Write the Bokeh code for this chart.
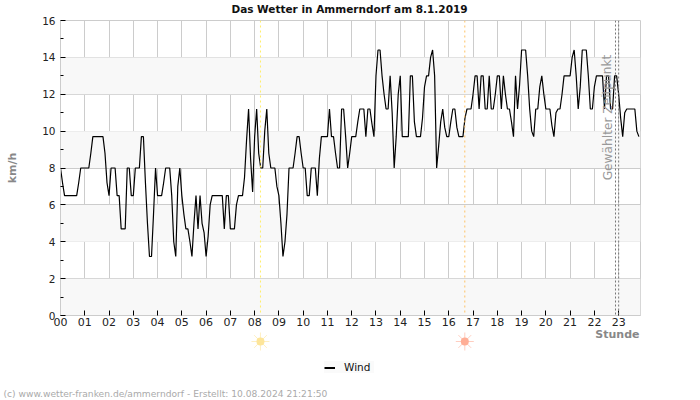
from bokeh.embed import file_html
from bokeh.layouts import column
from bokeh.models import BoxAnnotation, FixedTicker, Label, Legend, LegendItem, Range1d, Span
from bokeh.plotting import figure
from bokeh.resources import INLINE

# Wind speed in km/h, one row per hour, one value every five minutes
wind_by_hour = [
    [8, 7.2, 6.5, 6.5, 6.5, 6.5, 6.5, 6.5, 6.5, 7.2, 8, 8],
    [8, 8, 8, 8.8, 9.7, 9.7, 9.7, 9.7, 9.7, 9.7, 8.8, 7.2],
    [6.5, 8, 8, 8, 6.5, 6.5, 4.7, 4.7, 4.7, 8, 8, 6.5],
    [6.5, 8, 8, 8, 9.7, 9.7, 7.2, 5, 3.2, 3.2, 5.5, 8],
    [6.5, 6.5, 6.5, 7.2, 8, 8, 8, 6.5, 4, 3.2, 7, 8],
    [6.5, 5.5, 4.7, 4.7, 4, 3.2, 5, 6.5, 4.7, 6.5, 5, 4.5],
    [3.2, 4.3, 6, 6.5, 6.5, 6.5, 6.5, 6.5, 6.5, 4.7, 6.5, 6.5],
    [4.7, 4.7, 4.7, 6, 6.5, 6.5, 6.5, 7.5, 9.5, 11.2, 8.5, 6.7],
    [9.7, 11.2, 8.8, 8, 8, 10, 11.2, 8.8, 8, 8, 8, 7],
    [6.5, 5, 3.2, 4, 5.5, 8, 8, 8, 8.8, 9.7, 9.7, 8.8],
    [8, 8, 6.5, 6.5, 8, 8, 8, 6.5, 8.5, 9.7, 9.7, 9.7],
    [9.7, 11.2, 9.7, 9.7, 8.8, 8, 8, 11.2, 11.2, 9.7, 8, 8.8],
    [9.7, 9.7, 9.7, 10.5, 11.2, 11.2, 11.2, 9.7, 11.2, 11.2, 10.4, 9.7],
    [13, 14.4, 14.4, 13, 12, 11.2, 11.2, 13, 11, 8, 9.7, 12],
    [13, 9.7, 9.7, 9.7, 9.7, 13, 13, 10.5, 9.7, 9.7, 9.7, 10.7],
    [12.4, 13, 13, 14, 14.4, 13, 8, 9.2, 10.5, 11.2, 10.2, 9.7],
    [9.7, 10.5, 11.2, 11.2, 10.2, 9.7, 9.7, 9.7, 10.7, 11.2, 11.2, 11.2],
    [12, 13, 13, 11.2, 13, 13, 11.2, 11.2, 13, 11.2, 11.2, 12],
    [13, 13, 11.2, 13, 12, 11.2, 11.2, 10.5, 9.7, 13, 11.2, 12.5],
    [14.4, 14.4, 14.4, 13, 11.2, 10, 9.7, 11.2, 11.2, 12.4, 13, 12],
    [11.2, 11.2, 11.2, 10.3, 9.7, 11, 11.2, 11.2, 12, 13, 13, 13],
    [13, 14, 14.4, 13, 11.2, 12.4, 14.4, 14.4, 14.4, 13, 11.2, 11.2],
    [12.4, 13, 13, 13, 13, 11.2, 13, 13, 11.2, 11.2, 13, 13],
    [12, 10.7, 9.7, 11, 11.2, 11.2, 11.2, 11.2, 11.2, 10, 9.7],
]
hour_labels = [f"{h:02d}" for h in range(24)]
speed_ticks = list(range(0, 17, 2))
speed_minor_ticks = list(range(1, 16, 2))
shaded_bands = [(0, 2), (4, 6), (8, 10), (12, 14)]
sunrise_hour = 8.24
sunset_hour = 16.66
selected_hours = [22.87, 23.0]

wind = [v for row in wind_by_hour for v in row]
hours = [i / 12 for i in range(len(wind))]

FONT = "DejaVu Sans"
GRID = "#cccccc"
MUTED = "#888888"
PX_PER_HOUR = 580 / 23.9

# Title strip above the plot
header = figure(
    width=700, height=14, output_backend="svg", toolbar_location=None,
    x_range=(0, 700), y_range=(0, 14), frame_align=False,
    min_border=0, x_axis_type=None, y_axis_type=None, outline_line_color=None,
    background_fill_color="white", border_fill_color="white",
)
header.grid.visible = False
header.add_layout(Label(text="Das Wetter in Ammerndorf am 8.1.2019", x=349, y=6,
                        x_units="screen", y_units="screen", text_font=FONT,
                        text_font_size="10.5px", text_font_style="bold", text_color="#111111",
                        text_align="center", text_baseline="middle"))

p = figure(
    width=700, height=314, output_backend="svg", toolbar_location=None,
    x_range=(0, 23.9), y_range=(0, 16), frame_align=False,
    min_border_left=60, min_border_right=60, min_border_top=6, min_border_bottom=13,
    background_fill_color="white", border_fill_color="white",
    outline_line_color=GRID,
)

for low, high in shaded_bands:
    p.add_layout(BoxAnnotation(bottom=low, top=high, fill_color="#f8f8f8", fill_alpha=1,
                               line_color=None, level="underlay"))

p.xaxis.ticker = FixedTicker(ticks=list(range(24)))
p.xaxis.major_label_overrides = {h: label for h, label in enumerate(hour_labels)}
p.yaxis.ticker = FixedTicker(ticks=speed_ticks, minor_ticks=speed_minor_ticks)

for axis in (p.xaxis[0], p.yaxis[0]):
    axis.axis_line_color = GRID
    axis.major_tick_line_color = "#000000"
    axis.major_tick_in = 5
    axis.major_tick_out = 0
    axis.major_label_text_font = FONT
    axis.major_label_text_color = "#222222"
p.xaxis.minor_tick_line_color = None
p.yaxis.minor_tick_line_color = "#000000"
p.yaxis.minor_tick_in = 3
p.yaxis.minor_tick_out = 0
p.xaxis.major_label_text_font_size = "11px"
p.yaxis.major_label_text_font_size = "10.5px"
p.xaxis.major_label_standoff = 2
p.yaxis.major_label_standoff = 5
p.yaxis.axis_label = "km/h"
p.yaxis.axis_label_text_font = FONT
p.yaxis.axis_label_text_font_size = "11px"
p.yaxis.axis_label_text_font_style = "bold"
p.yaxis.axis_label_text_color = MUTED
p.yaxis.axis_label_standoff = 20

p.grid.grid_line_color = GRID
p.grid.grid_line_width = 1

p.add_layout(Span(location=sunrise_hour, dimension="height", line_color="#ffee66",
                  line_dash="2 3", line_width=1))
p.add_layout(Span(location=sunset_hour, dimension="height", line_color="#ffc266",
                  line_dash="2 3", line_width=1))
for hour in selected_hours:
    p.add_layout(Span(location=hour, dimension="height", line_color="#777777",
                      line_dash="2 2", line_width=1))

p.line(hours, wind, line_color="#000000", line_width=1.2)

p.add_layout(Label(text="Gewählter Zeitpunkt", x=547, y=198, x_units="screen", y_units="screen",
                   angle=1.5708, angle_units="rad", text_font=FONT, text_font_size="12.2px",
                   text_color="#999999", text_align="center", text_baseline="middle"))

# Strip under the plot: axis name, sun symbols, legend and credit line
q = figure(
    width=700, height=72, output_backend="svg", toolbar_location=None,
    x_range=Range1d(-60 / PX_PER_HOUR, 640 / PX_PER_HOUR), y_range=Range1d(0, 72), frame_align=False,
    min_border=0, x_axis_type=None, y_axis_type=None, outline_line_color=None,
    background_fill_color="white", border_fill_color="white",
)
q.grid.visible = False

for hour, colour in ((sunrise_hour, "#fde59a"), (sunset_hour, "#ffae96")):
    q.scatter([hour], [59], marker="asterisk", size=18, line_color=colour, line_alpha=0.6,
              fill_color=None)
    q.scatter([hour], [59], marker="circle", size=8, line_color=None, fill_color=colour)

# The legend sample comes from a line kept below the strip's visible range
legend_line = q.line([sunrise_hour, sunset_hour], [-5, -5], line_color="#000000", line_width=2)
q.add_layout(Legend(items=[LegendItem(label="Wind", renderers=[legend_line])],
                    location=(324, 27), orientation="horizontal",
                    background_fill_color="#fafafa", background_fill_alpha=1,
                    border_line_color=None, label_text_font=FONT, label_text_font_size="10.5px",
                    label_text_color="#111111", glyph_width=11, glyph_height=11,
                    padding=5, margin=0, label_standoff=9, label_width=30))

q.add_layout(Label(text="Stunde", x=639, y=66, x_units="screen", y_units="screen",
                   text_font=FONT, text_font_size="11px", text_font_style="bold",
                   text_color=MUTED, text_align="right", text_baseline="middle"))
q.add_layout(Label(text="(c) www.wetter-franken.de/ammerndorf - Erstellt: 10.08.2024 21:21:50",
                   x=3, y=7, x_units="screen", y_units="screen",
                   text_font=FONT, text_font_size="9.15px", text_color="#aaaaaa",
                   text_align="left", text_baseline="middle"))

page = column(header, p, q, spacing=0)
open("out.html", "w").write(file_html(page, INLINE))
